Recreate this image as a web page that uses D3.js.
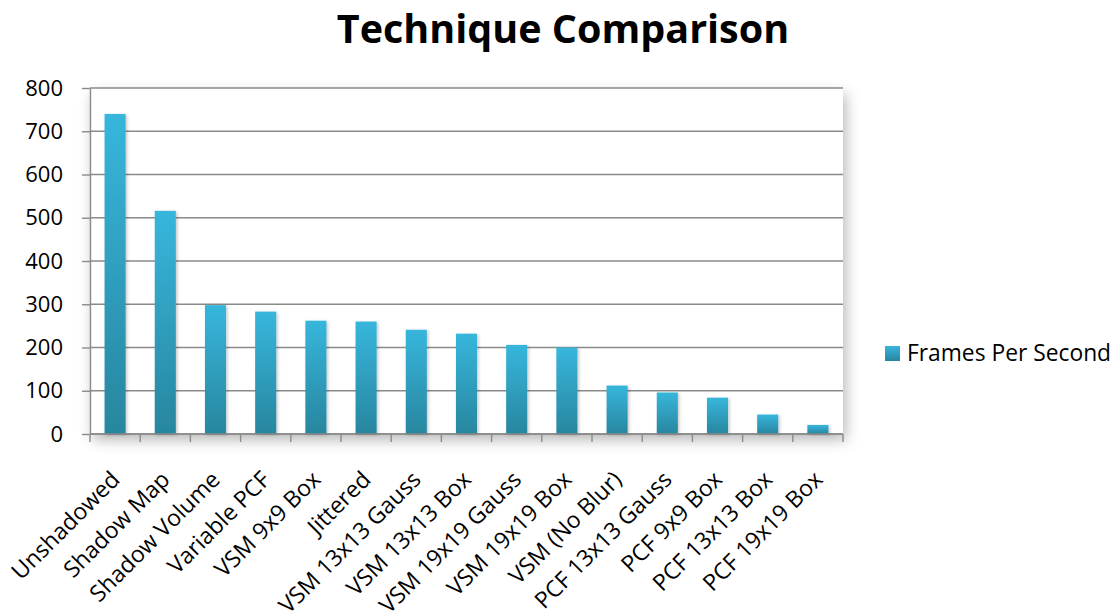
<!DOCTYPE html>
<html>
<head>
<meta charset="utf-8">
<script src="https://cdn.jsdelivr.net/npm/d3@7"></script>
<style>
  html, body { margin: 0; padding: 0; background: #fff; }
  svg { display: block; }
</style>
</head>
<body>
<svg id="chart" width="1119" height="612"></svg>
<script>
const categories = ["Unshadowed", "Shadow Map", "Shadow Volume", "Variable PCF", "VSM 9x9 Box",
  "Jittered", "VSM 13x13 Gauss", "VSM 13x13 Box", "VSM 19x19 Gauss", "VSM 19x19 Box",
  "VSM (No Blur)", "PCF 13x13 Gauss", "PCF 9x9 Box", "PCF 13x13 Box", "PCF 19x19 Box"];
const fps = [740, 516, 298, 283, 262, 260, 241, 232, 206, 200, 112, 96, 84, 45, 21];
const yTicks = [0, 100, 200, 300, 400, 500, 600, 700, 800];
const seriesName = "Frames Per Second";
const title = "Technique Comparison";

const svg = d3.select("#chart");
const W = 1119, H = 612;
const m = { left: 90, right: 276, top: 88, bottom: 178 };
const x0 = m.left, x1 = W - m.right, y0 = m.top, y1 = H - m.bottom;

const defs = svg.append("defs");
const grad = defs.append("linearGradient").attr("id", "barGrad")
  .attr("x1", 0).attr("y1", 0).attr("x2", 0).attr("y2", 1);
grad.append("stop").attr("offset", "0%").attr("stop-color", "#37b6dc");
grad.append("stop").attr("offset", "100%").attr("stop-color", "#28869f");
const f = defs.append("filter").attr("id", "shadow")
  .attr("x", "-10%").attr("y", "-10%").attr("width", "130%").attr("height", "130%");
f.append("feDropShadow").attr("dx", 3).attr("dy", 6).attr("stdDeviation", 7)
  .attr("flood-color", "#000").attr("flood-opacity", 0.28);
const bf = defs.append("filter").attr("id", "barShadow")
  .attr("x", "-50%").attr("y", "-10%").attr("width", "200%").attr("height", "130%");
bf.append("feDropShadow").attr("dx", 1.5).attr("dy", 1).attr("stdDeviation", 1.5)
  .attr("flood-color", "#000").attr("flood-opacity", 0.22);

// plot area with soft shadow
svg.append("rect").attr("x", x0).attr("y", y0).attr("width", x1 - x0).attr("height", y1 - y0)
  .attr("fill", "#fff").attr("filter", "url(#shadow)");

const x = d3.scaleBand().domain(categories).range([x0, x1]).paddingInner(0.58).paddingOuter(0.29);
const y = d3.scaleLinear().domain([0, 800]).range([y1, y0]);

// gridlines
svg.append("g").selectAll("line").data(yTicks).join("line")
  .attr("x1", x0).attr("x2", x1)
  .attr("y1", d => y(d)).attr("y2", d => y(d))
  .attr("stroke", "#8a8a8a").attr("stroke-width", 1.4);

// bars
svg.append("g").selectAll("rect").data(fps).join("rect")
  .attr("x", (d, i) => x(categories[i]))
  .attr("width", x.bandwidth())
  .attr("y", d => y(d))
  .attr("height", d => y(0) - y(d))
  .attr("fill", "url(#barGrad)")
  .attr("filter", "url(#barShadow)");

// y axis
const yAxis = svg.append("g").attr("transform", `translate(${x0},0)`)
  .call(d3.axisLeft(y).tickValues(yTicks).tickSize(8).tickPadding(19).tickSizeOuter(0));
yAxis.select(".domain").attr("stroke", "#8a8a8a").attr("stroke-width", 1.4);
yAxis.selectAll(".tick line").attr("stroke", "#8a8a8a").attr("stroke-width", 1.4);
yAxis.selectAll("text").attr("font-family", "'Open Sans', sans-serif").attr("font-size", 22).attr("fill", "#000");

// x axis: boundary ticks
const bounds = d3.range(categories.length + 1).map(i => x0 + i * (x1 - x0) / categories.length);
const xg = svg.append("g");
xg.append("line").attr("x1", x0).attr("x2", x1).attr("y1", y1).attr("y2", y1)
  .attr("stroke", "#8a8a8a").attr("stroke-width", 1.4);
xg.selectAll("line.t").data(bounds).join("line").attr("class", "t")
  .attr("x1", d => d).attr("x2", d => d).attr("y1", y1).attr("y2", y1 + 8)
  .attr("stroke", "#8a8a8a").attr("stroke-width", 1.4);

// x labels
svg.append("g").selectAll("text").data(categories).join("text")
  .attr("transform", d => `translate(${x(d) + x.bandwidth() / 2 + 6},${y1 + 47}) rotate(-45)`)
  .attr("text-anchor", "end")
  .attr("font-family", "'Open Sans', sans-serif").attr("font-size", 23).attr("fill", "#000")
  .text(d => d);

// title
svg.append("text").attr("x", 563).attr("y", 43).attr("text-anchor", "middle")
  .attr("font-family", "'Open Sans', sans-serif").attr("font-weight", "bold").attr("font-size", 39.5)
  .attr("fill", "#000").text(title);

// legend
svg.append("rect").attr("x", 885).attr("y", 346).attr("width", 15).attr("height", 15)
  .attr("fill", "url(#barGrad)");
svg.append("text").attr("x", 907).attr("y", 361)
  .attr("font-family", "'Open Sans', sans-serif").attr("font-size", 22.8).attr("fill", "#000")
  .text(seriesName);
</script>
</body>
</html>
